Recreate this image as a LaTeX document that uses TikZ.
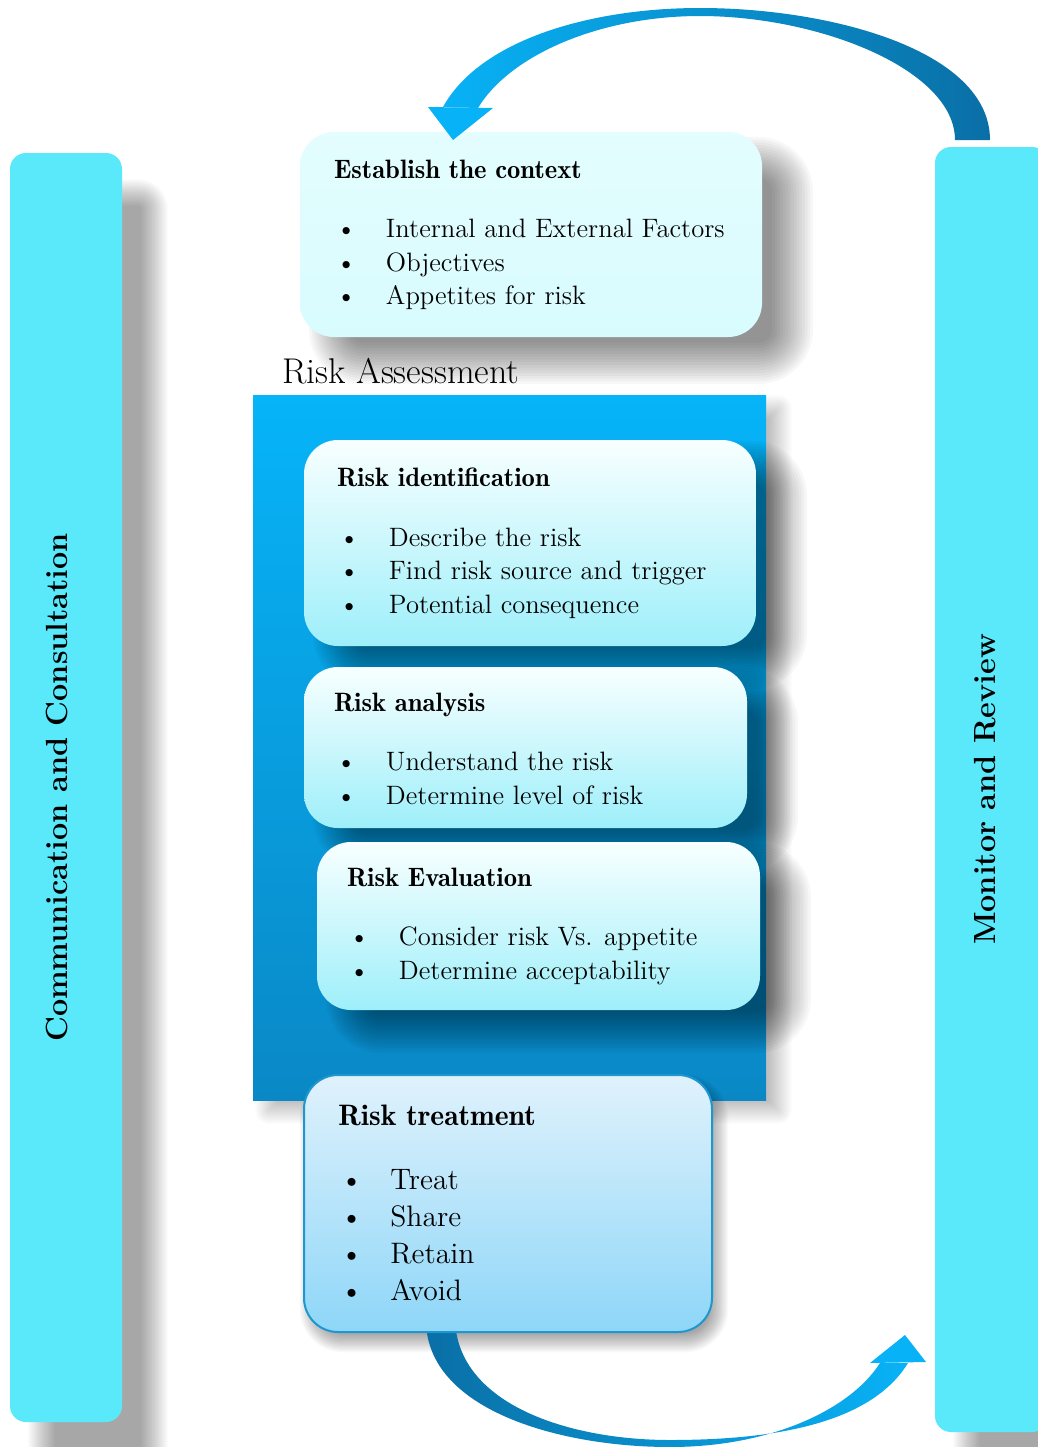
\documentclass[tikz,border=0pt]{standalone}
\usepackage{tikz}
\usetikzlibrary{positioning, calc}

\definecolor{barcyan}{HTML}{5AE9FB}
\definecolor{ctxfill}{HTML}{D8FCFE}
\definecolor{steptop}{HTML}{F8FFFF}
\definecolor{stepbot}{HTML}{9EEFFA}
\definecolor{rabright}{HTML}{06B4F8}
\definecolor{radark}{HTML}{0A88C6}
\definecolor{trtop}{HTML}{E0F2FC}
\definecolor{trbot}{HTML}{8ED6F8}
\definecolor{trline}{HTML}{1E96CE}
\definecolor{arrlight}{HTML}{08B2F6}
\definecolor{arrdark}{HTML}{0A6FA6}

\pgfdeclarelayer{shadelow}
\pgfdeclarelayer{base}
\pgfdeclarelayer{shadehigh}
\pgfsetlayers{shadelow,base,shadehigh,main}

\newcommand{\bul}[1]{\makebox[26pt][l]{\hspace{1pt}\textbullet}#1}
\newcommand{\ttl}[1]{{\fontseries{b}\selectfont #1}}

% soft shadow: node, dx, dy, blur, radius, opacity of one step
\newcommand{\dropsh}[6]{%
  \foreach \k in {1,...,16}{%
    \pgfmathsetmacro{\ins}{-#4+2*#4*(\k-0.5)/16}%
    \pgfmathsetmacro{\xa}{#2+\ins}%
    \pgfmathsetmacro{\ya}{-#3-\ins}%
    \pgfmathsetmacro{\xb}{#2-\ins}%
    \pgfmathsetmacro{\yb}{-#3+\ins}%
    \pgfmathsetmacro{\rr}{max(#5-\ins,0.5)}%
    \fill[black, opacity=#6, rounded corners=\rr pt]
      ($(#1.north west)+(\xa pt,\ya pt)$) rectangle ($(#1.south east)+(\xb pt,\yb pt)$);
  }}

\tikzset{ bar/.style = { rectangle
                       , rounded corners = 8pt
                       , fill            = barcyan
                       , inner sep       = 0pt
                       },
          bartxt/.style = { rotate    = 90
                          , inner sep = 0pt
                          , font      = \fontsize{15.3}{18}\selectfont\bfseries
                          },
          box/.style = { rectangle
                       , rounded corners = 17pt
                       , inner sep       = 0pt
                       },
          ctxbox/.style = { box
                          , top color    = ctxfill!70!white
                          , bottom color = ctxfill
                          },
          stepbox/.style = { box
                           , top color    = steptop
                           , bottom color = stepbot
                           },
          trbox/.style = { box
                         , draw         = trline
                         , line width   = 1pt
                         , top color    = trtop
                         , bottom color = trbot
                         },
          ra/.style = { rectangle
                      , inner sep    = 0pt
                      , top color    = rabright
                      , bottom color = radark
                      },
          txt/.style = { inner sep = 0pt
                       , align     = left
                       , font      = \fontsize{13.3}{16.75}\selectfont
                       }
        }

\begin{document}
\begin{tikzpicture}[x=0.5pt, y=-0.5pt]
    \begin{pgfonlayer}{shadelow}
        \fill[white] (0,0) rectangle (1038,1447);
    \end{pgfonlayer}
    \useasboundingbox (0,0) rectangle (1038,1447);

    % side bars
    \node[bar, minimum width=56pt, minimum height=634.5pt] (comm) at (66,787.5) {};
    \node[bar, minimum width=56.5pt, minimum height=642.5pt] (mon) at (991.5,789.5) {};
    \node[bartxt] (commtxt) at ([xshift=-4.5pt]comm.center) {Communication and Consultation};
    \node[bartxt] (montxt) at ([xshift=-3pt]mon.center) {Monitor and Review};

    \node[ctxbox, minimum width=231pt, minimum height=102.5pt] (ctx) at (531,234.5) {};

    % arrow back to the context
    \shade[left color=arrlight, right color=arrdark]
        (443,107) .. controls (480,40) and (590,8) .. (700,8)
        .. controls (830,8) and (990,50) .. (990,140) -- (955,140)
        .. controls (955,70) and (820,16) .. (700,16)
        .. controls (600,16) and (510,55) .. (478,108) -- cycle;
    \fill[arrlight] (428,107) -- (453,140) -- (493,108) -- cycle;

    \begin{pgfonlayer}{base}
        \node[ra, minimum width=256.5pt, minimum height=352.5pt] (ra) at (509.5,747.5) {};
    \end{pgfonlayer}
    \node[inner sep=0pt, font=\fontsize{17.9}{20}\selectfont, above right=5pt and 14.5pt of ra.north west]
        (ratxt) {Risk Assessment};

    \node[stepbox, minimum width=226pt, minimum height=103pt] (ident) at (530,543) {};
    \node[stepbox, minimum width=221.5pt, minimum height=80.5pt] (anal) at (525.5,747.5) {};
    \node[stepbox, minimum width=221.5pt, minimum height=84pt] (eval) at (538.5,926) {};

    % arrow to the monitor bar
    \shade[left color=arrdark, right color=arrlight]
        (426,1320) .. controls (426,1410) and (560,1447) .. (670,1447)
        .. controls (770,1447) and (850,1410) .. (880,1363) -- (908,1363)
        .. controls (870,1425) and (770,1440) .. (670,1440)
        .. controls (570,1440) and (458,1405) .. (455,1320) -- cycle;
    \fill[arrlight] (870,1363) -- (905,1335) -- (926,1362) -- cycle;

    \node[trbox, minimum width=204pt, minimum height=128.5pt] (treat) at (508,1203.5) {};

    % shadows
    \begin{pgfonlayer}{shadelow}
        \dropsh{comm}{16}{20}{7}{8}{0.022}
        \dropsh{mon}{16}{20}{7}{8}{0.022}
        \dropsh{ctx}{15}{13}{11}{17}{0.03}
        \dropsh{ra}{7}{6}{6}{1}{0.014}
    \end{pgfonlayer}
    \begin{pgfonlayer}{shadehigh}
        \dropsh{ident}{15}{11}{11}{17}{0.032}
        \dropsh{anal}{15}{11}{11}{17}{0.032}
        \dropsh{eval}{15}{11}{11}{17}{0.032}
        \dropsh{treat}{3}{5}{5}{17}{0.022}
    \end{pgfonlayer}

    % texts
    \node[txt, below right=14pt and 17pt of ctx.north west] (ctxtxt)
        {\ttl{Establish the context}\\[13pt]
         \bul{Internal and External Factors}\\ \bul{Objectives}\\ \bul{Appetites for risk}};
    \node[txt, below right=14pt and 16.5pt of ident.north west] (identtxt)
        {\ttl{Risk identification}\\[13pt]
         \bul{Describe the risk}\\ \bul{Find risk source and trigger}\\ \bul{Potential consequence}};
    \node[txt, below right=13pt and 15pt of anal.north west] (analtxt)
        {\ttl{Risk analysis}\\[13pt]
         \bul{Understand the risk}\\ \bul{Determine level of risk}};
    \node[txt, below right=13pt and 15pt of eval.north west] (evaltxt)
        {\ttl{Risk Evaluation}\\[13pt]
         \bul{Consider risk Vs. appetite}\\ \bul{Determine acceptability}};
    \node[txt, font=\fontsize{14.8}{18.5}\selectfont, below right=15.5pt and 17.5pt of treat.north west] (treattxt)
        {\ttl{Risk treatment}\\[13.5pt]
         \bul{Treat}\\ \bul{Share}\\ \bul{Retain}\\ \bul{Avoid}};
\end{tikzpicture}
\end{document}
